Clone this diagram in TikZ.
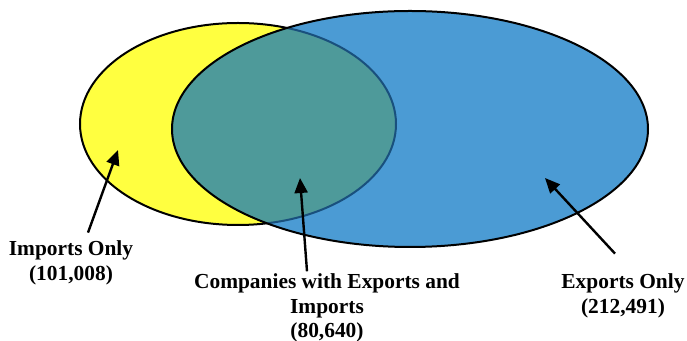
\documentclass[tikz,border=0pt]{standalone}
\usepackage{fontspec}
\setmainfont{Liberation Serif}
\usetikzlibrary{shapes.geometric,arrows.meta}
\definecolor{impyellow}{RGB}{255,255,64}
\definecolor{expblue}{RGB}{75,155,212}
\definecolor{bothteal}{RGB}{78,154,154}
\definecolor{edgeblue}{RGB}{25,80,125}
\tikzset{
  imports/.style = {ellipse, draw, line width=1pt, fill=impyellow, inner sep=0, outer sep=0, minimum width=158pt, minimum height=101pt},
  exports/.style = {ellipse, fill=expblue, inner sep=0, outer sep=0, minimum width=238pt, minimum height=118pt},
  label/.style = {font=\fontsize{10.7}{12.3}\selectfont\bfseries, align=center, inner sep=1pt},
  pointer/.style = {-{Triangle[length=7.5pt,width=6.5pt]}, line width=1.2pt}
}
\begin{document}
\begin{tikzpicture}[x=0.5pt,y=-0.5pt]
\useasboundingbox (0,0) rectangle (687,341);
\node [imports] (imp) at (238,124) {};
\node [exports] (exp) at (410,129) {};
% the part that is in both
\begin{scope}
\clip (exp.center) ellipse [x radius=119pt, y radius=59pt];
\fill [bothteal] (imp.center) ellipse [x radius=79pt, y radius=50.5pt];
\draw [edgeblue, line width=1pt] (imp.center) ellipse [x radius=79pt, y radius=50.5pt];
\end{scope}
\draw [line width=1pt] (exp.center) ellipse [x radius=119pt, y radius=59pt];
% labels
\node [label] (impLbl) at (71,263) {Imports Only\\(101,008)};
\node [label] (bothLbl) at (327,308) {Companies with Exports and\\Imports\\(80,640)};
\node [label] (expLbl) at (623,296) {Exports Only\\(212,491)};
\coordinate (impPt) at (118,150);
\coordinate (bothPt) at (300,178);
\coordinate (expPt) at (545,178);
\draw [pointer] ([xshift=8.5pt,yshift=3pt]impLbl.north) -- (impPt);
\draw [pointer] ([xshift=-10pt]bothLbl.north) -- (bothPt);
\draw [pointer] ([xshift=-4pt,yshift=9pt]expLbl.north) -- (expPt);
\end{tikzpicture}
\end{document}
